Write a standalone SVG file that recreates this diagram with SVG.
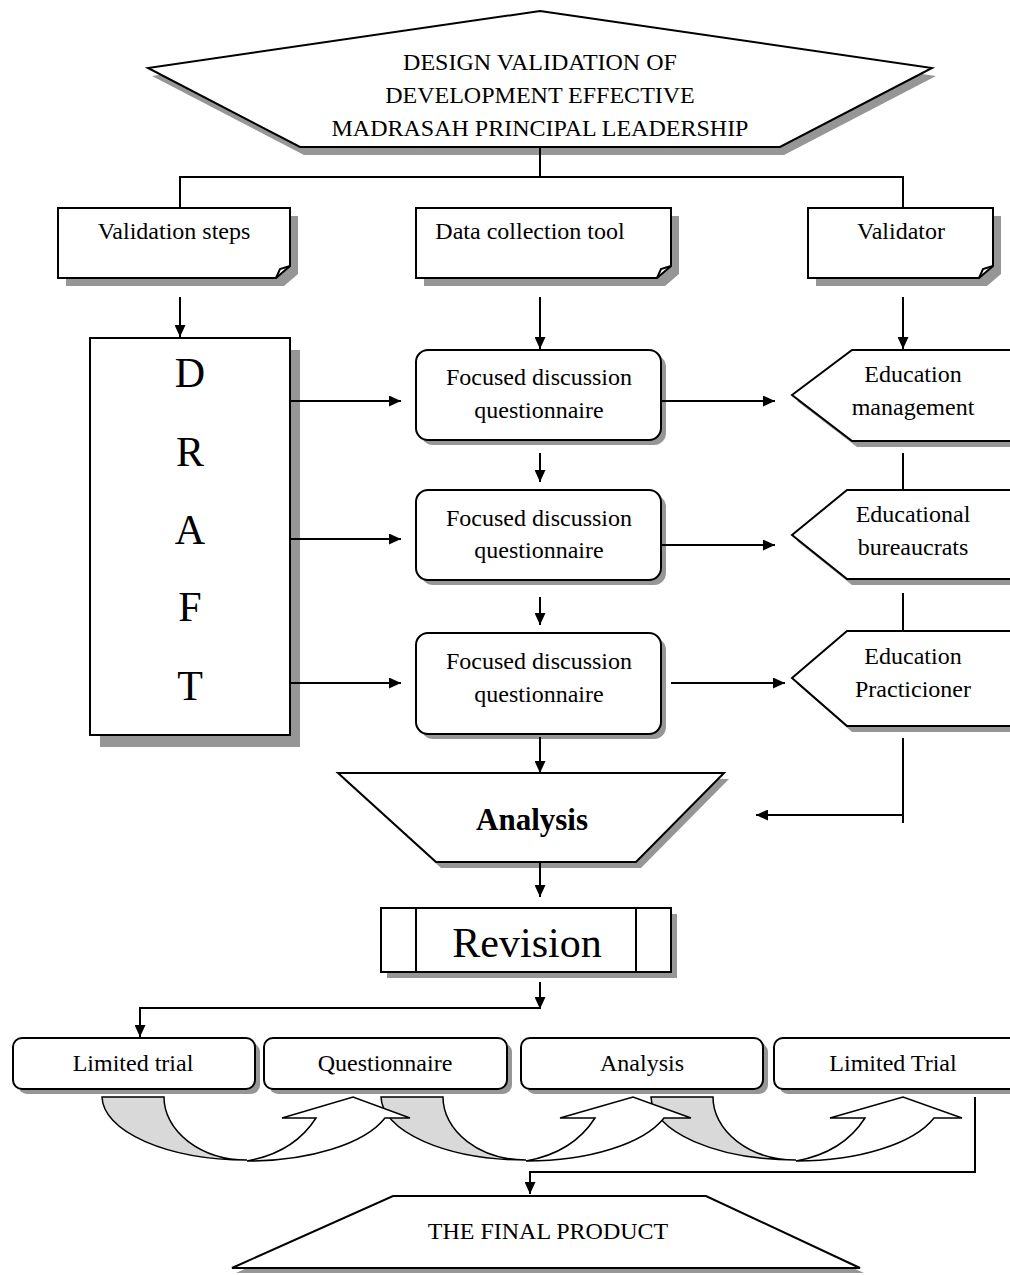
<svg xmlns="http://www.w3.org/2000/svg" width="1010" height="1275" viewBox="0 0 1010 1275">
<style>
  .s{fill:#ffffff;stroke:#000;stroke-width:2}
  .sh{fill:#969696;stroke:none}
  .t{font-family:"Liberation Serif","Times New Roman",serif;font-size:24px;fill:#000;text-anchor:middle}
  .c{fill:none;stroke:#000;stroke-width:2}
  .g{fill:#d9d9d9;stroke:#000;stroke-width:1.5}
  .w{fill:#ffffff;stroke:#000;stroke-width:1.5}
</style>
<defs>
  <marker id="ah" viewBox="0 0 12 11" refX="12" refY="5.5" markerWidth="12" markerHeight="11" markerUnits="userSpaceOnUse" orient="auto">
    <path d="M0,0 L12,5.5 L0,11 Z" fill="#000"/>
  </marker>
</defs>
<rect width="1010" height="1275" fill="#fff"/>

<g id="title">
  <path class="sh" d="M544,19 L936,76 L784,155 L304,155 L152,76 Z"/>
  <path class="s" d="M540,11 L932,68 L780,147 L300,147 L148,68 Z"/>
  <text class="t" x="540" y="70">DESIGN VALIDATION OF</text>
  <text class="t" x="540" y="103">DEVELOPMENT EFFECTIVE</text>
  <text class="t" x="540" y="136">MADRASAH PRINCIPAL LEADERSHIP</text>
</g>

<g id="validation-steps">
  <path class="sh" d="M66,216 H298 V274 L284,286 H66 Z"/>
  <path class="s" d="M58,208 H290 V266 L276,278 H58 Z"/>
  <path class="c" d="M290,266 L280,269 L276,278" stroke-width="1.5"/>
  <text class="t" x="174" y="239">Validation steps</text>
</g>
<g id="data-collection-tool">
  <path class="sh" d="M424,216 H679 V274 L665,286 H424 Z"/>
  <path class="s" d="M416,208 H671 V266 L657,278 H416 Z"/>
  <path class="c" d="M671,266 L661,269 L657,278" stroke-width="1.5"/>
  <text class="t" x="530" y="239">Data collection tool</text>
</g>
<g id="validator">
  <path class="sh" d="M816,216 H1001 V274 L987,286 H816 Z"/>
  <path class="s" d="M808,208 H993 V266 L979,278 H808 Z"/>
  <path class="c" d="M993,266 L983,269 L979,278" stroke-width="1.5"/>
  <text class="t" x="901" y="239">Validator</text>
</g>

<g id="draft">
  <rect class="sh" x="100" y="350" width="200" height="397"/>
  <rect class="s" x="90" y="338" width="200" height="397"/>
  <text class="t" x="190" y="387" style="font-size:42px">D</text>
  <text class="t" x="190" y="466" style="font-size:42px">R</text>
  <text class="t" x="190" y="544" style="font-size:42px">A</text>
  <text class="t" x="190" y="621" style="font-size:42px">F</text>
  <text class="t" x="190" y="700" style="font-size:42px">T</text>
</g>

<g id="fd1">
  <rect class="sh" x="421" y="355" width="245" height="90" rx="12"/>
  <rect class="s" x="416" y="350" width="245" height="90" rx="12"/>
  <text class="t" x="539" y="385">Focused discussion</text>
  <text class="t" x="539" y="418">questionnaire</text>
</g>
<g id="fd2">
  <rect class="sh" x="421" y="495" width="245" height="90" rx="12"/>
  <rect class="s" x="416" y="490" width="245" height="90" rx="12"/>
  <text class="t" x="539" y="526">Focused discussion</text>
  <text class="t" x="539" y="558">questionnaire</text>
</g>
<g id="fd3">
  <rect class="sh" x="421" y="638" width="245" height="101" rx="12"/>
  <rect class="s" x="416" y="633" width="245" height="101" rx="12"/>
  <text class="t" x="539" y="669">Focused discussion</text>
  <text class="t" x="539" y="702">questionnaire</text>
</g>

<g id="education-management">
  <path class="sh" d="M797,401 L857,356 H1020 V447 H857 Z"/>
  <path class="s" d="M792,395 L852,350 H1015 V441 H852 Z"/>
  <text class="t" x="913" y="382">Education</text>
  <text class="t" x="913" y="415">management</text>
</g>
<g id="educational-bureaucrats">
  <path class="sh" d="M797,541 L852,496 H1020 V585 H852 Z"/>
  <path class="s" d="M792,535 L847,490 H1015 V579 H847 Z"/>
  <text class="t" x="913" y="522">Educational</text>
  <text class="t" x="913" y="555">bureaucrats</text>
</g>
<g id="education-practicioner">
  <path class="sh" d="M797,684 L852,637 H1020 V732 H852 Z"/>
  <path class="s" d="M792,678 L847,631 H1015 V726 H847 Z"/>
  <text class="t" x="913" y="664">Education</text>
  <text class="t" x="913" y="697">Practicioner</text>
</g>

<g id="analysis">
  <path class="sh" d="M343,779 L729,779 L641,868 L441,868 Z"/>
  <path class="s" d="M338,773 L724,773 L636,862 L436,862 Z"/>
  <text class="t" x="532" y="830" style="font-size:31px;font-weight:bold">Analysis</text>
</g>

<g id="revision">
  <rect class="sh" x="387" y="914" width="290" height="64"/>
  <rect class="s" x="381" y="908" width="290" height="64"/>
  <line class="c" x1="416" y1="908" x2="416" y2="972"/>
  <line class="c" x1="636" y1="908" x2="636" y2="972"/>
  <text class="t" x="527" y="957" style="font-size:42px">Revision</text>
</g>

<g id="limited-trial">
  <rect class="sh" x="18" y="1043" width="242" height="51" rx="9"/>
  <rect class="s" x="13" y="1038" width="242" height="51" rx="9"/>
  <text class="t" x="133" y="1071">Limited trial</text>
</g>
<g id="questionnaire">
  <rect class="sh" x="269" y="1043" width="243" height="51" rx="9"/>
  <rect class="s" x="264" y="1038" width="243" height="51" rx="9"/>
  <text class="t" x="385" y="1071">Questionnaire</text>
</g>
<g id="analysis2">
  <rect class="sh" x="526" y="1043" width="242" height="51" rx="9"/>
  <rect class="s" x="521" y="1038" width="242" height="51" rx="9"/>
  <text class="t" x="642" y="1071">Analysis</text>
</g>
<g id="limited-trial-2">
  <rect class="sh" x="779" y="1043" width="250" height="51" rx="9"/>
  <rect class="s" x="774" y="1038" width="250" height="51" rx="9"/>
  <text class="t" x="893" y="1071">Limited Trial</text>
</g>

<g id="cycle-arrows">
  <path class="g" d="M102,1097 L164,1097 A83 63 0 0 0 247,1160 A145 64 0 0 1 102,1097 Z"/>
  <path class="g" d="M381,1097 L443,1097 A83 63 0 0 0 526,1160 A145 64 0 0 1 381,1097 Z"/>
  <path class="g" d="M651,1097 L713,1097 A83 63 0 0 0 796,1160 A145 64 0 0 1 651,1097 Z"/>
  <path class="w" d="M247,1161 A145 64 0 0 0 385,1118 L410,1118 L353,1097 L282,1118 L316,1118 C300,1143 275,1156 247,1161 Z"/>
  <path class="w" d="M526,1161 A145 64 0 0 0 664,1118 L691,1118 L633,1097 L560,1118 L595,1118 C579,1143 554,1156 526,1161 Z"/>
  <path class="w" d="M796,1161 A145 64 0 0 0 934,1118 L962,1118 L903,1097 L830,1118 L865,1118 C849,1143 824,1156 796,1161 Z"/>
</g>

<g id="final-product">
  <path class="sh" d="M393,1200 L706,1200 L864,1273 L236,1273 Z"/>
  <path class="s" d="M393,1196 L706,1196 L860,1268 L232,1268 Z"/>
  <text class="t" x="548" y="1239">THE FINAL PRODUCT</text>
</g>

<g id="connectors">
  <path class="c" d="M540,147 V177"/>
  <path class="c" d="M180,208 V177 H903 V208"/>
  <path class="c" d="M180,297 V337" marker-end="url(#ah)"/>
  <path class="c" d="M540,297 V349" marker-end="url(#ah)"/>
  <path class="c" d="M903,297 V349" marker-end="url(#ah)"/>
  <path class="c" d="M290,401 H401" marker-end="url(#ah)"/>
  <path class="c" d="M290,539 H401" marker-end="url(#ah)"/>
  <path class="c" d="M290,683 H401" marker-end="url(#ah)"/>
  <path class="c" d="M540,453 V482" marker-end="url(#ah)"/>
  <path class="c" d="M540,597 V625" marker-end="url(#ah)"/>
  <path class="c" d="M540,737 V773" marker-end="url(#ah)"/>
  <path class="c" d="M661,401 H775" marker-end="url(#ah)"/>
  <path class="c" d="M661,545 H775" marker-end="url(#ah)"/>
  <path class="c" d="M671,683 H785" marker-end="url(#ah)"/>
  <path class="c" d="M903,453 V490"/>
  <path class="c" d="M903,593 V631"/>
  <path class="c" d="M903,738 V823"/>
  <path class="c" d="M903,815 H756" marker-end="url(#ah)"/>
  <path class="c" d="M540,862 V897" marker-end="url(#ah)"/>
  <path class="c" d="M540,982 V1009" marker-end="url(#ah)"/>
  <path class="c" d="M540,1008 H140 V1037" marker-end="url(#ah)"/>
  <path class="c" d="M975,1097 V1172 H530 V1194" marker-end="url(#ah)"/>
</g>
</svg>
